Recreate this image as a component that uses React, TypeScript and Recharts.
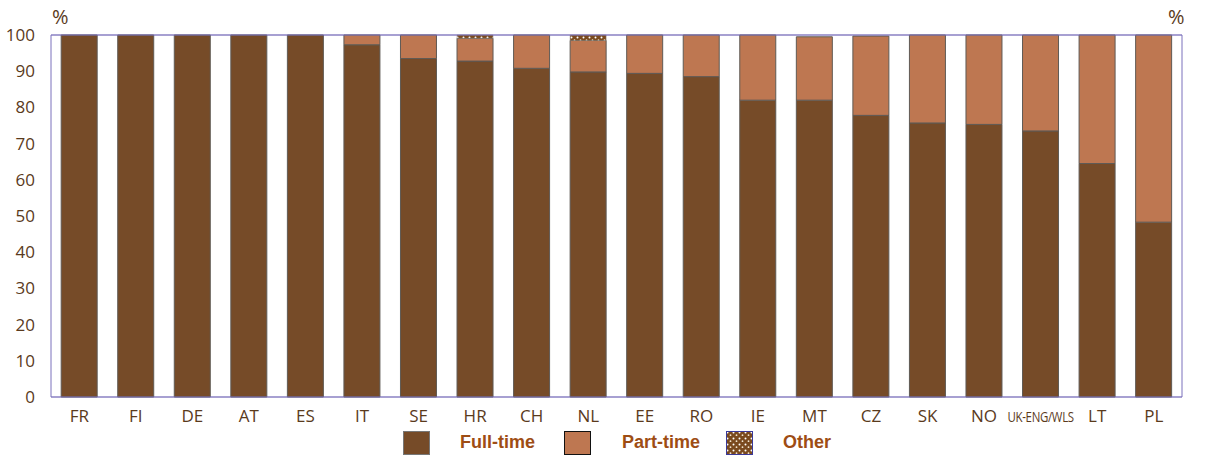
import React from "react";
import { BarChart, Bar, XAxis, YAxis, CartesianGrid, ReferenceLine } from "recharts";

const countries = ["FR", "FI", "DE", "AT", "ES", "IT", "SE", "HR", "CH", "NL", "EE", "RO", "IE", "MT", "CZ", "SK", "NO", "UK-ENG/WLS", "LT", "PL"];
const fullTime = [100, 100, 100, 100, 100, 97.3, 93.5, 92.8, 90.8, 89.8, 89.4, 88.5, 82.0, 82.0, 77.8, 75.7, 75.3, 73.5, 64.5, 48.3];
const partTime = [0, 0, 0, 0, 0, 2.7, 6.5, 6.3, 9.2, 8.7, 10.6, 11.5, 18.0, 17.5, 21.9, 24.3, 24.7, 26.5, 35.5, 51.7];
const other = [0, 0, 0, 0, 0, 0, 0, 0.9, 0, 1.5, 0, 0, 0, 0, 0, 0, 0, 0, 0, 0];
const yTicks = [0, 10, 20, 30, 40, 50, 60, 70, 80, 90, 100];

const data = countries.map((c, i) => ({ country: c, ft: fullTime[i], pt: partTime[i], ot: other[i] }));

const FT = "#764B28";
const PT = "#BE7751";
const TXT = "#5A3A1C";
const LEG = "#9E4D14";
const AXIS = "#7A70BC";
const GRID = "#A9A2D2";
const FONT = "'Open Sans', sans-serif";

const XTick = (props: any) => {
  const { x, y, payload } = props;
  const long = payload.value.length > 4;
  if (long) {
    return (
      <g transform={`translate(${x},${y + 17}) scale(0.82,1)`}>
        <text x={0} y={0} textAnchor="middle" fill={TXT} fontSize={14} letterSpacing={-0.4} fontFamily={FONT}>
          {payload.value}
        </text>
      </g>
    );
  }
  return (
    <text x={x} y={y + 17} textAnchor="middle" fill={TXT} fontSize={17} fontFamily={FONT}>
      {payload.value}
    </text>
  );
};

export default function App() {
  return (
    <div style={{ position: "absolute", left: 0, top: 0, width: 1221, height: 455, background: "#fff" }}>
      <BarChart width={1221} height={455} data={data} barCategoryGap="18%"
        margin={{ top: 35, right: 0, left: 0, bottom: 28 }}>
        <defs>
          <pattern id="dots" width="6" height="6" patternUnits="userSpaceOnUse">
            <rect width="6" height="6" fill="#7A4A1E" />
            <circle cx="1.5" cy="1.5" r="1" fill="#fff" />
            <circle cx="4.5" cy="4.2" r="0.9" fill="#f3e6d0" />
          </pattern>
        </defs>
        <CartesianGrid vertical={false} stroke={GRID} strokeWidth={1.2} />
        <XAxis dataKey="country" tickLine={false} axisLine={{ stroke: AXIS }} height={30}
          interval={0} tick={<XTick />} />
        <YAxis yAxisId="l" orientation="left" domain={[0, 100]} ticks={yTicks} width={51}
          tickLine={false} tickSize={0} tickMargin={16} axisLine={{ stroke: AXIS }}
          tick={{ fill: TXT, fontSize: 17, fontFamily: FONT }} />
        <YAxis yAxisId="r" orientation="right" domain={[0, 100]} ticks={yTicks} width={39}
          tickLine={false} tickSize={0} tickMargin={14} axisLine={{ stroke: AXIS }}
          tick={{ fill: TXT, fontSize: 17, fontFamily: FONT }} />
        <ReferenceLine yAxisId="l" y={100} stroke={AXIS} strokeWidth={1.2} />
        <Bar yAxisId="l" dataKey="ft" stackId="a" fill={FT} stroke="#5f5a55" strokeWidth={1} isAnimationActive={false} />
        <Bar yAxisId="l" dataKey="pt" stackId="a" fill={PT} stroke="#5f5a55" strokeWidth={1} isAnimationActive={false} />
        <Bar yAxisId="l" dataKey="ot" stackId="a" fill="url(#dots)" stroke="#8a8580" strokeWidth={0.5} isAnimationActive={false} />
      </BarChart>
      <div style={{ position: "absolute", left: 52, top: 4, fontFamily: FONT, fontSize: 20, color: TXT, lineHeight: "26px" }}>%</div>
      <div style={{ position: "absolute", left: 1168, top: 4, fontFamily: FONT, fontSize: 20, color: TXT, lineHeight: "26px" }}>%</div>
      {[
        { label: "Full-time", sx: 403, tx: 460, fill: FT, border: "#777" },
        { label: "Part-time", sx: 564, tx: 622, fill: PT, border: "#111" },
        { label: "Other", sx: 726, tx: 783, fill: "dots", border: "#3a3a9a" },
      ].map((it) => (
        <React.Fragment key={it.label}>
          <svg style={{ position: "absolute", left: it.sx, top: 431 }} width={27} height={24}>
            <defs>
              <pattern id={"ld" + it.label} width="6" height="6" patternUnits="userSpaceOnUse">
                <rect width="6" height="6" fill="#7A4A1E" />
                <circle cx="1.5" cy="1.5" r="1" fill="#fff" />
                <circle cx="4.5" cy="4.2" r="0.9" fill="#f3e6d0" />
              </pattern>
            </defs>
            <rect x={0.5} y={0.5} width={26} height={23}
              fill={it.fill === "dots" ? `url(#ld${it.label})` : it.fill} stroke={it.border} strokeWidth={1} />
          </svg>
          <div style={{ position: "absolute", left: it.tx, top: 432, fontFamily: "'Liberation Sans', Arial, sans-serif",
            fontWeight: "bold", fontSize: 18, color: LEG, whiteSpace: "nowrap" }}>{it.label}</div>
        </React.Fragment>
      ))}
    </div>
  );
}
